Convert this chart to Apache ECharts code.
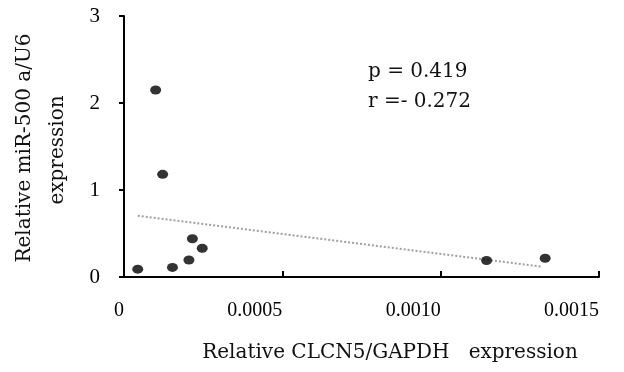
<!DOCTYPE html>
<html>
<head>
<meta charset="utf-8">
<script src="https://cdn.jsdelivr.net/npm/echarts@6/dist/echarts.min.js"></script>
<style>
  html, body { margin: 0; padding: 0; background: #fff; }
  #main { width: 624px; height: 372px; }
</style>
</head>
<body>
<div id="main"></div>
<script>
// CLCN5/GAPDH (x) vs miR-500a/U6 (y)
const clcn5 = [0.0000434, 0.000100, 0.000122, 0.000153, 0.000205, 0.000216, 0.000247, 0.001145, 0.00133];
const mir500a = [0.09, 2.15, 1.18, 0.11, 0.195, 0.44, 0.33, 0.19, 0.215];

// fitted line end points
const trendX = [0.0000434, 0.001322];
const trendY = [0.705, 0.118];

const xTicks = ["0", "0.0005", "0.0010", "0.0015"];

const chart = echarts.init(document.getElementById("main"));

const axisStyle = { lineStyle: { color: "#000", width: 2 } };
const tickFont = "'Liberation Serif', serif";

const option = {
  animation: false,
  backgroundColor: "#fff",
  grid: { left: 124, right: 25, top: 16, bottom: 95 },
  xAxis: {
    type: "value",
    min: 0,
    max: 0.0015,
    interval: 0.0005,
    axisLine: axisStyle,
    axisTick: { inside: true, length: 6, lineStyle: { color: "#000", width: 2 } },
    splitLine: { show: false },
    axisLabel: {
      margin: 24,
      align: "right",
      color: "#000",
      fontFamily: tickFont,
      fontSize: 20,
      formatter: (v) => xTicks[Math.round(v / 0.0005)],
    },
  },
  yAxis: {
    type: "value",
    min: 0,
    max: 3,
    interval: 1,
    axisLine: axisStyle,
    axisTick: { length: 5, lineStyle: { color: "#000", width: 2 } },
    splitLine: { show: false },
    axisLabel: {
      margin: 24,
      color: "#000",
      fontFamily: tickFont,
      fontSize: 21,
    },
  },
  graphic: [
    {
      type: "text",
      x: 25,
      y: 148,
      rotation: Math.PI / 2,
      style: {
        text: "Relative miR-500 a/U6",
        fill: "#111",
        font: "20px 'DejaVu Serif'",
        align: "center",
        verticalAlign: "middle",
      },
    },
    {
      type: "text",
      x: 58,
      y: 150,
      rotation: Math.PI / 2,
      style: {
        text: "expression",
        fill: "#111",
        font: "20px 'DejaVu Serif'",
        align: "center",
        verticalAlign: "middle",
      },
    },
    {
      type: "text",
      x: 390,
      y: 353,
      style: {
        text: "Relative CLCN5/GAPDH   expression",
        fill: "#111",
        font: "20px 'DejaVu Serif'",
        align: "center",
        verticalAlign: "middle",
      },
    },
    {
      type: "text",
      x: 368,
      y: 72,
      style: {
        text: "p = 0.419",
        fill: "#111",
        font: "20px 'DejaVu Serif'",
        verticalAlign: "middle",
      },
    },
    {
      type: "text",
      x: 368,
      y: 102,
      style: {
        text: "r =- 0.272",
        fill: "#111",
        font: "20px 'DejaVu Serif'",
        verticalAlign: "middle",
      },
    },
  ],
  series: [
    {
      type: "line",
      data: trendX.map((x, i) => [x, trendY[i]]),
      symbol: "none",
      lineStyle: { color: "#a0a0a0", width: 2, type: "dotted" },
      z: 1,
    },
    {
      type: "scatter",
      data: clcn5.map((x, i) => [x, mir500a[i]]),
      symbol: "circle",
      symbolSize: [11, 9],
      itemStyle: { color: "#000" },
      z: 2,
    },
  ],
};

chart.setOption(option);
</script>
</body>
</html>
